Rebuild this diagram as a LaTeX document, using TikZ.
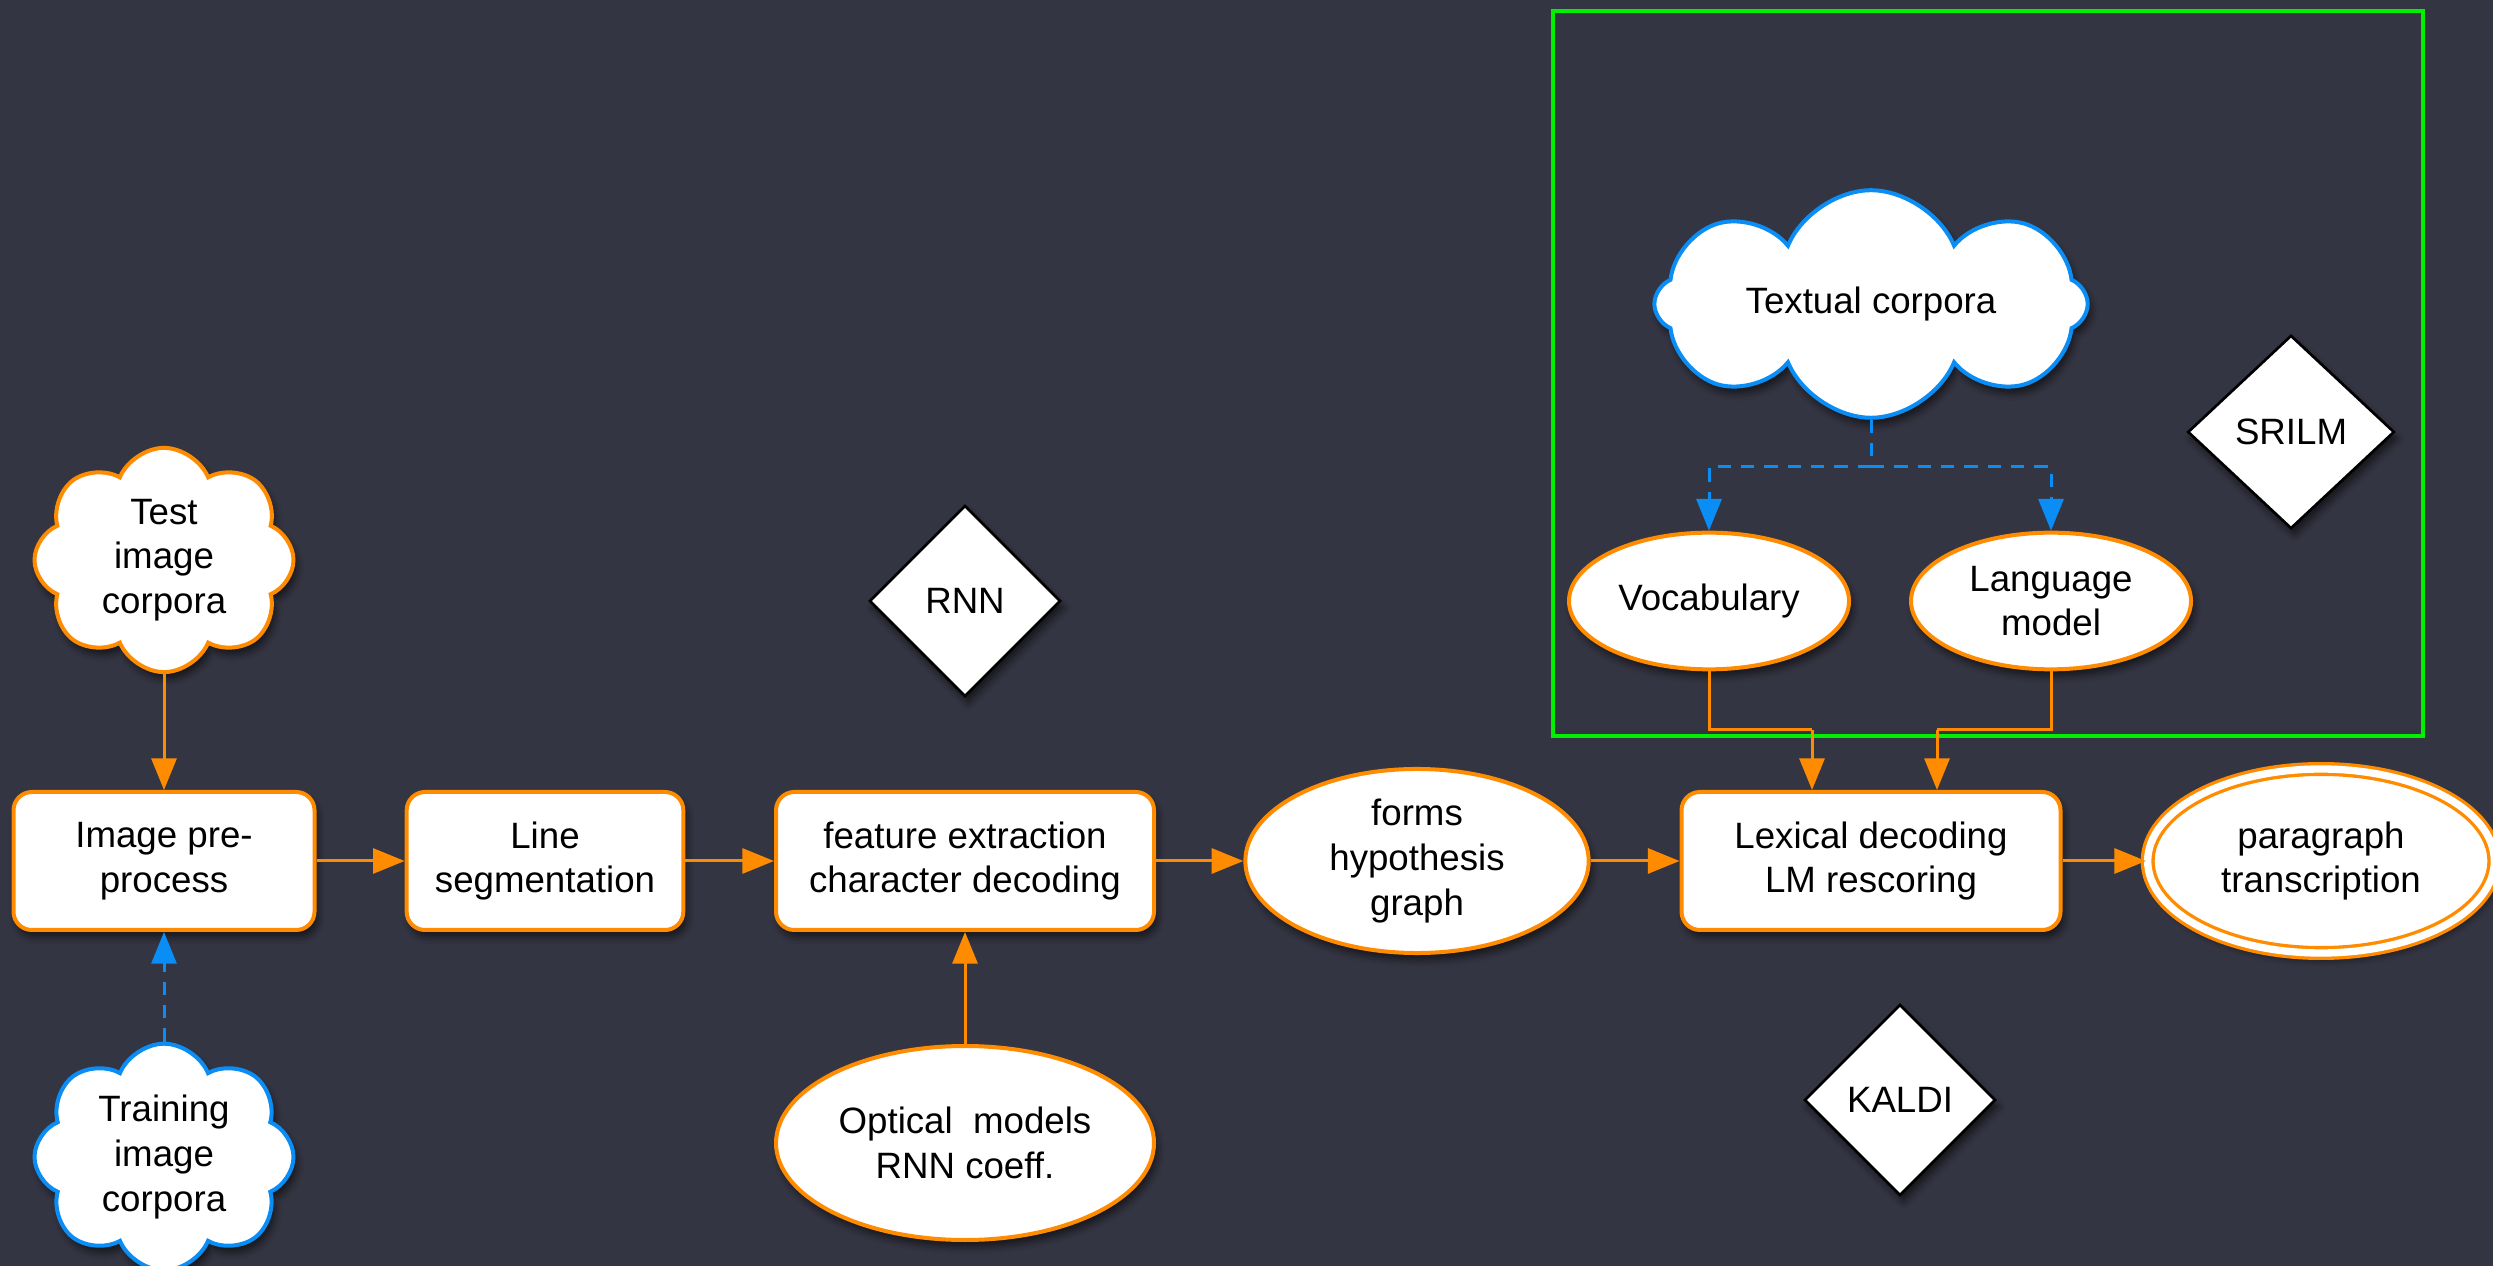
\documentclass[tikz,border=0pt]{standalone}
\usepackage{fontspec}
\setmainfont{Liberation Sans}
\usetikzlibrary{shapes.geometric,shapes.symbols,arrows.meta,shadows.blur}
\definecolor{bg}{RGB}{52,53,66}
\definecolor{org}{RGB}{255,140,0}
\definecolor{blu}{RGB}{10,142,245}
\definecolor{grn}{RGB}{0,240,0}
\tikzset{
  base/.style={fill=white, line width=1.2pt, align=center, inner sep=1pt,
    font=\fontsize{11}{13.4}\selectfont,
    blur shadow={shadow xshift=1pt, shadow yshift=-2pt, shadow opacity=60, shadow blur steps=6}},
  procbox/.style={base, draw=org, rounded corners=5.5pt, minimum width=#1, minimum height=41.4pt},
  oval/.style={base, draw=org, ellipse},
  cloudo/.style={base, cloud, cloud puffs=8, cloud puff arc=135, aspect=1.2},
  tool/.style={base, draw=black, line width=0.8pt, diamond, inner sep=0pt},
  flow/.style={draw=org, line width=0.9pt, -{Triangle[length=9.5pt,width=7.5pt]}},
  flowplain/.style={draw=org, line width=0.9pt},
  dflow/.style={draw=blu, line width=0.9pt, dash pattern=on 4pt off 3pt, -{Triangle[length=9.5pt,width=7.5pt]}},
  dflowplain/.style={draw=blu, line width=0.9pt, dash pattern=on 4pt off 3pt},
}
\begin{document}
\begin{tikzpicture}[x=0.3pt,y=-0.3pt]
\fill[bg] (0,0) rectangle (2493,1266);
\useasboundingbox (0,0) rectangle (2493,1266);

% green frame
\draw[grn, line width=1.3pt] (1553,11) rectangle (2423,736);

% nodes
\node[procbox=90.3pt] (img) at (164,861) {Image pre-\\process};
\node[procbox=83pt] (seg) at (545,861) {Line\\segmentation};
\node[procbox=113.4pt] (feat) at (965,861) {feature extraction\\character decoding};
\node[oval, minimum width=103pt, minimum height=52.5pt] (forms) at (1417,861) {forms\\hypothesis\\graph};
\node[procbox=113.7pt] (lex) at (1871,861) {Lexical decoding\\LM rescoring};
\node[oval, double=white, double distance=2.2pt, line width=1pt, minimum width=104pt, minimum height=55.2pt] (para) at (2321,861) {paragraph\\transcription};

\node[cloudo, draw=org, minimum width=77.7pt, minimum height=64.8pt] (test) at (164,560) {Test\\image\\corpora};
\node[cloudo, draw=blu, minimum width=77.7pt, minimum height=64.8pt] (train) at (164,1157) {Training\\image\\corpora};

\node[tool, minimum width=57.3pt, minimum height=57.3pt] (rnn) at (965,601) {RNN};
\node[oval, minimum width=113.4pt, minimum height=58.2pt] (optical) at (965,1143) {Optical\ \ models\\RNN coeff.};

\node[cloudo, draw=blu, minimum width=130pt, minimum height=40pt, aspect=2.5] (text) at (1871,304) {Textual corpora};
\node[oval, minimum width=84pt, minimum height=41pt] (vocab) at (1709,601) {Vocabulary};
\node[oval, minimum width=84pt, minimum height=41pt] (lm) at (2051,601) {Language\\model};
\node[tool, minimum width=62pt, minimum height=58pt] (srilm) at (2291,432) {SRILM};
\node[tool, minimum width=57.3pt, minimum height=57.3pt] (kaldi) at (1900,1100) {KALDI};

% junction coordinates
\coordinate (tj) at (1871,467);
\coordinate (j1) at (1812,730);
\coordinate (j2) at (1937,730);

% connectors
\draw[flow] (test.south) -- (img.north);
\draw[dflow] (train.north) -- (img.south);
\draw[flow] (img.east) -- (seg.west);
\draw[flow] (seg.east) -- (feat.west);
\draw[flow] (feat.east) -- (forms.west);
\draw[flow] (forms.east) -- (lex.west);
\draw[flow] (lex.east) -- (para.west);
\draw[flow] (optical.north) -- (feat.south);

\draw[dflowplain] (text.south) -- (tj);
\draw[dflow] (tj) -| (vocab.north);
\draw[dflow] (tj) -| (lm.north);

\draw[flowplain] (vocab.south) |- (j1);
\draw[flow] (j1) -- (j1 |- lex.north);
\draw[flowplain] (lm.south) |- (j2);
\draw[flow] (j2) -- (j2 |- lex.north);
\end{tikzpicture}
\end{document}
